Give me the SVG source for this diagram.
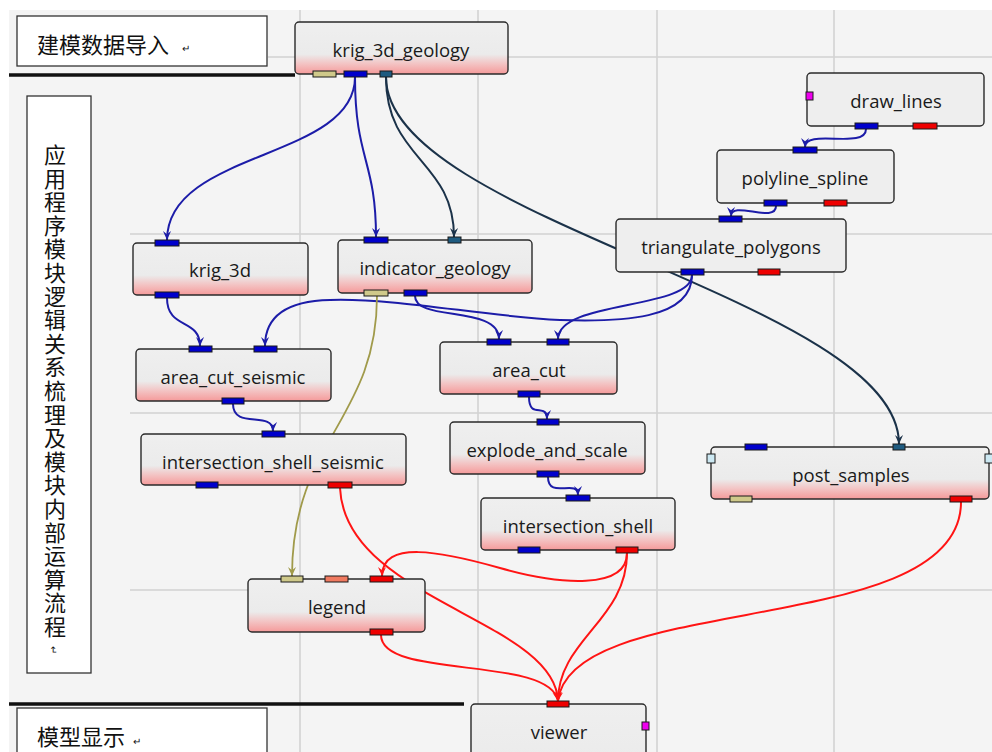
<svg xmlns="http://www.w3.org/2000/svg" width="992" height="752" viewBox="0 0 992 752">
<defs>
<linearGradient id="ng" x1="0" y1="0" x2="0" y2="1">
<stop offset="0" stop-color="#efefef"/>
<stop offset="0.62" stop-color="#ebebeb"/>
<stop offset="0.8" stop-color="#f3c4c4"/>
<stop offset="1" stop-color="#f59a9a"/>
</linearGradient>
<marker id="mb" viewBox="0 0 10 10" refX="10" refY="5" markerWidth="9" markerHeight="9" orient="auto" markerUnits="userSpaceOnUse"><path d="M0,0.5 L10,5 L0,9.5 L3.5,5 z" fill="#1c1ca8"/></marker>
<marker id="mn" viewBox="0 0 10 10" refX="10" refY="5" markerWidth="9" markerHeight="9" orient="auto" markerUnits="userSpaceOnUse"><path d="M0,0.5 L10,5 L0,9.5 L3.5,5 z" fill="#1b3249"/></marker>
<marker id="mk" viewBox="0 0 10 10" refX="10" refY="5" markerWidth="9" markerHeight="9" orient="auto" markerUnits="userSpaceOnUse"><path d="M0,0.5 L10,5 L0,9.5 L3.5,5 z" fill="#a09a4a"/></marker>
<marker id="mr" viewBox="0 0 10 10" refX="10" refY="5" markerWidth="9" markerHeight="9" orient="auto" markerUnits="userSpaceOnUse"><path d="M0,0.5 L10,5 L0,9.5 L3.5,5 z" fill="#ff1414"/></marker>
</defs>
<style>
.grid{stroke:#d2d2d2;stroke-width:1.6;fill:none}
.rule{stroke:#111;stroke-width:3.5}
.tbox{fill:#fff;stroke:#333;stroke-width:1.3}
.cjk{font-family:"Noto Sans CJK SC","Noto Sans CJK JP",sans-serif;fill:#111}
.node{fill:url(#ng);stroke:#2a2a2a;stroke-width:1.4}
.plain{fill:#eeeeee;stroke:#2a2a2a;stroke-width:1.4}
.lbl{font-family:"Open Sans","Noto Sans",sans-serif;font-size:18.5px;fill:#1a1a1a;text-anchor:middle}
.p{stroke:#1a1a1a;stroke-width:1}
.pb{fill:#0000cc}
.pr{fill:#ee0000}
.pk{fill:#cfc98a}
.pt{fill:#1f5b80}
.ps{fill:#f07a60}
.pm{fill:#ee00ee}
.pl{fill:#cce8f2}
.cb{fill:none;stroke:#1c1ca8;stroke-width:2;marker-end:url(#mb)}
.cn{fill:none;stroke:#1b3249;stroke-width:2;marker-end:url(#mn)}
.ck{fill:none;stroke:#a09a4a;stroke-width:1.8;marker-end:url(#mk)}
.cr{fill:none;stroke:#ff1414;stroke-width:2;marker-end:url(#mr)}
</style>
<rect x="0" y="0" width="992" height="752" fill="#ffffff"/>
<rect x="9" y="10" width="983" height="742" fill="#f4f4f4"/>
<g id="grid">
<line class="grid" x1="300" y1="10" x2="300" y2="752"/>
<line class="grid" x1="478" y1="10" x2="478" y2="752"/>
<line class="grid" x1="657" y1="10" x2="657" y2="752"/>
<line class="grid" x1="834" y1="10" x2="834" y2="752"/>
<line class="grid" x1="268" y1="57" x2="992" y2="57"/>
<line class="grid" x1="130" y1="234" x2="992" y2="234"/>
<line class="grid" x1="130" y1="413" x2="992" y2="413"/>
<line class="grid" x1="130" y1="590" x2="992" y2="590"/>
</g>
<g id="rules">
<line class="rule" x1="9" y1="75" x2="295" y2="75"/>
<line class="rule" x1="9" y1="704" x2="464" y2="704"/>
</g>
<g id="title-top">
<rect class="tbox" x="17" y="16" width="250" height="50"/>
<text class="cjk" x="37" y="53" font-size="22">建模数据导入</text>
<text class="cjk" x="182" y="52" font-size="10" fill="#444">↵</text>
</g>
<g id="title-left">
<rect class="tbox" x="27" y="96" width="64" height="577"/>
<text class="cjk" font-size="22" text-anchor="middle">
<tspan x="55" y="163">应</tspan><tspan x="55" dy="23.6">用</tspan><tspan x="55" dy="23.6">程</tspan><tspan x="55" dy="23.6">序</tspan><tspan x="55" dy="23.6">模</tspan><tspan x="55" dy="23.6">块</tspan><tspan x="55" dy="23.6">逻</tspan><tspan x="55" dy="23.6">辑</tspan><tspan x="55" dy="23.6">关</tspan><tspan x="55" dy="23.6">系</tspan><tspan x="55" dy="23.6">梳</tspan><tspan x="55" dy="23.6">理</tspan><tspan x="55" dy="23.6">及</tspan><tspan x="55" dy="23.6">模</tspan><tspan x="55" dy="23.6">块</tspan><tspan x="55" dy="23.6">内</tspan><tspan x="55" dy="23.6">部</tspan><tspan x="55" dy="23.6">运</tspan><tspan x="55" dy="23.6">算</tspan><tspan x="55" dy="23.6">流</tspan><tspan x="55" dy="23.6">程</tspan>
</text>
<text class="cjk" x="0" y="0" font-size="10" fill="#444" transform="translate(50,646) rotate(90)">↵</text>
</g>
<g id="title-bottom">
<rect class="tbox" x="17" y="708" width="250" height="50"/>
<text class="cjk" x="37" y="745" font-size="22">模型显示</text>
<text class="cjk" x="133" y="745" font-size="10" fill="#444">↵</text>
</g>
<g id="connectors">
<path class="cb" d="M355,77 C355,160 167,150 167,240"/>
<path class="cb" d="M355,77 C355,160 376,160 376,237"/>
<path class="cn" d="M386,77 C386,160 454,160 454,237"/>
<path class="cn" d="M386,77 C386,220 899,300 899,444"/>
<path class="cb" d="M866,129 C866,150 805,128 805,147"/>
<path class="cb" d="M776,206 C776,224 731,200 731,216"/>
<path class="cb" d="M167,298 C167,330 200,318 200,346"/>
<path class="cb" d="M233,404 C233,430 273,410 273,431"/>
<path class="cb" d="M415,296 C415,322 499,305 499,339"/>
<path class="cb" d="M692,275 C692,310 558,300 558,339"/>
<path class="cb" d="M692,275 C692,320 620,322 560,320 C480,316 400,298 330,300 C285,301 265,318 265,346"/>
<path class="cb" d="M529,397 C529,420 547,402 547,419"/>
<path class="cb" d="M548,477 C548,500 578,478 578,495"/>
<path class="ck" d="M377,296 C377,420 292,440 292,576"/>
<path class="cr" d="M340,488 C345,600 555,620 558,701"/>
<path class="cr" d="M627,553 C627,590 560,585 500,568 C440,551 382,540 382,576"/>
<path class="cr" d="M627,553 C627,620 558,640 558,701"/>
<path class="cr" d="M961,502 C961,640 570,590 558,701"/>
<path class="cr" d="M381,635 C381,680 550,655 558,701"/>
</g>
<g id="krig_3d_geology">
<rect class="node" x="295" y="22" width="213" height="52" rx="4"/>
<text class="lbl" x="401" y="57">krig_3d_geology</text>
<rect class="p pk" x="313" y="71" width="23" height="6"/>
<rect class="p pb" x="344" y="71" width="23" height="6"/>
<rect class="p pt" x="380" y="71" width="12" height="6"/>
</g>
<g id="draw_lines">
<rect class="plain" x="807" y="73" width="177" height="53" rx="4"/>
<text class="lbl" x="896" y="108">draw_lines</text>
<rect class="p pm" x="806" y="92" width="7" height="8"/>
<rect class="p pb" x="855" y="123" width="23" height="6"/>
<rect class="p pr" x="913" y="123" width="24" height="6"/>
</g>
<g id="polyline_spline">
<rect class="plain" x="717" y="150" width="177" height="53" rx="4"/>
<text class="lbl" x="805" y="185">polyline_spline</text>
<rect class="p pb" x="793" y="147" width="24" height="6"/>
<rect class="p pb" x="764" y="200" width="23" height="6"/>
<rect class="p pr" x="824" y="200" width="23" height="6"/>
</g>
<g id="triangulate_polygons">
<rect class="plain" x="616" y="219" width="230" height="53" rx="4"/>
<text class="lbl" x="731" y="254">triangulate_polygons</text>
<rect class="p pb" x="719" y="216" width="23" height="6"/>
<rect class="p pb" x="681" y="269" width="23" height="6"/>
<rect class="p pr" x="758" y="269" width="22" height="6"/>
</g>
<g id="krig_3d">
<rect class="node" x="133" y="243" width="175" height="52" rx="4"/>
<text class="lbl" x="220" y="277">krig_3d</text>
<rect class="p pb" x="155" y="240" width="24" height="6"/>
<rect class="p pb" x="155" y="292" width="24" height="6"/>
</g>
<g id="indicator_geology">
<rect class="node" x="338" y="240" width="194" height="53" rx="4"/>
<text class="lbl" x="435" y="275">indicator_geology</text>
<rect class="p pb" x="364" y="237" width="24" height="6"/>
<rect class="p pt" x="448" y="237" width="13" height="6"/>
<rect class="p pk" x="364" y="290" width="24" height="6"/>
<rect class="p pb" x="404" y="290" width="23" height="6"/>
</g>
<g id="area_cut_seismic">
<rect class="node" x="136" y="349" width="195" height="52" rx="4"/>
<text class="lbl" x="233" y="384">area_cut_seismic</text>
<rect class="p pb" x="189" y="346" width="23" height="6"/>
<rect class="p pb" x="254" y="346" width="23" height="6"/>
<rect class="p pb" x="222" y="398" width="22" height="6"/>
</g>
<g id="area_cut">
<rect class="node" x="440" y="342" width="177" height="52" rx="4"/>
<text class="lbl" x="529" y="377">area_cut</text>
<rect class="p pb" x="487" y="339" width="24" height="6"/>
<rect class="p pb" x="547" y="339" width="22" height="6"/>
<rect class="p pb" x="518" y="391" width="22" height="6"/>
</g>
<g id="intersection_shell_seismic">
<rect class="node" x="141" y="434" width="265" height="51" rx="4"/>
<text class="lbl" x="273" y="469">intersection_shell_seismic</text>
<rect class="p pb" x="262" y="431" width="23" height="6"/>
<rect class="p pb" x="196" y="482" width="22" height="6"/>
<rect class="p pr" x="328" y="482" width="24" height="6"/>
</g>
<g id="explode_and_scale">
<rect class="node" x="450" y="422" width="195" height="52" rx="4"/>
<text class="lbl" x="547" y="457">explode_and_scale</text>
<rect class="p pb" x="537" y="419" width="22" height="6"/>
<rect class="p pb" x="537" y="471" width="22" height="6"/>
</g>
<g id="intersection_shell">
<rect class="node" x="481" y="498" width="194" height="52" rx="4"/>
<text class="lbl" x="578" y="533">intersection_shell</text>
<rect class="p pb" x="566" y="495" width="24" height="6"/>
<rect class="p pb" x="518" y="547" width="22" height="6"/>
<rect class="p pr" x="616" y="547" width="22" height="6"/>
</g>
<g id="post_samples">
<rect class="node" x="711" y="447" width="278" height="52" rx="4"/>
<text class="lbl" x="851" y="482">post_samples</text>
<rect class="p pb" x="745" y="444" width="22" height="6"/>
<rect class="p pt" x="893" y="444" width="12" height="6"/>
<rect class="p pl" x="707" y="454" width="8" height="9"/>
<rect class="p pl" x="985" y="454" width="8" height="9"/>
<rect class="p pk" x="730" y="496" width="22" height="6"/>
<rect class="p pr" x="950" y="496" width="22" height="6"/>
</g>
<g id="legend">
<rect class="node" x="248" y="579" width="177" height="53" rx="4"/>
<text class="lbl" x="337" y="614">legend</text>
<rect class="p pk" x="281" y="576" width="22" height="6"/>
<rect class="p ps" x="325" y="576" width="23" height="6"/>
<rect class="p pr" x="370" y="576" width="23" height="6"/>
<rect class="p pr" x="370" y="629" width="23" height="6"/>
</g>
<g id="viewer">
<rect class="node" x="471" y="704" width="175" height="90" rx="4"/>
<text class="lbl" x="559" y="739">viewer</text>
<rect class="p pr" x="547" y="701" width="22" height="6"/>
<rect class="p pm" x="642" y="722" width="7" height="8"/>
</g>
</svg>
